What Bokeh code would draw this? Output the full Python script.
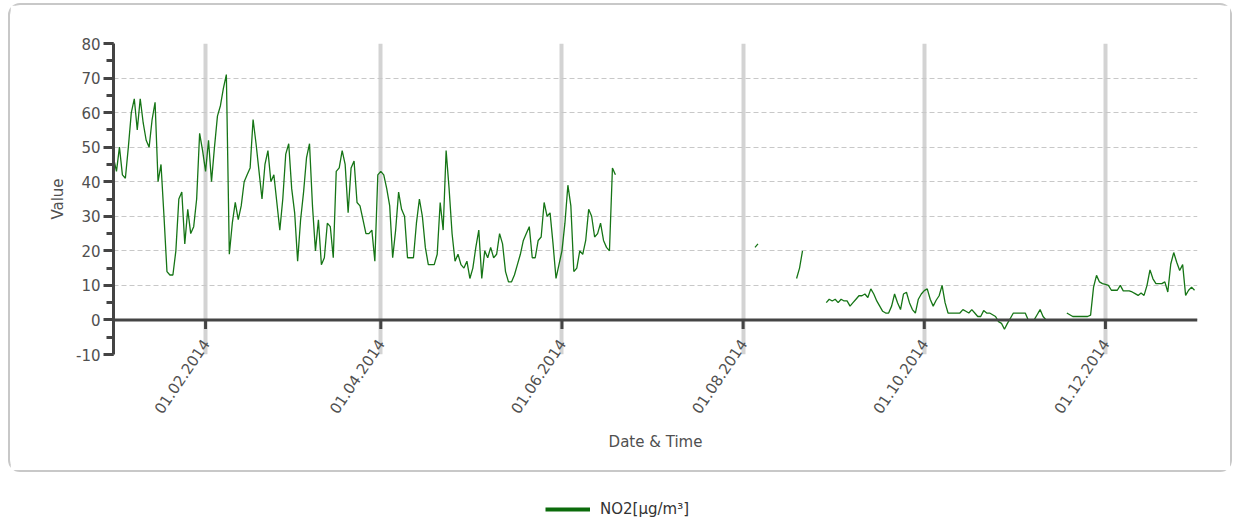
import math
import numpy as np
import pandas as pd
from bokeh.plotting import figure
from bokeh.models import (Range1d, FixedTicker, DatetimeTickFormatter, SingleIntervalTicker,
                          NumeralTickFormatter, Span, Legend, LegendItem, ColumnDataSource)
from bokeh.layouts import column
from bokeh.embed import file_html
from bokeh.resources import INLINE

# ---------------- data (daily NO2 values) ----------------
seg1_start = "2014-01-01"
seg1_values = [
    47, 43, 50, 42, 41, 50, 60, 64, 55, 64,
    57, 52, 50, 58, 63, 40, 45, 30, 14, 13,
    13, 20, 35, 37, 22, 32, 25, 27, 35, 54,
    49, 43, 52, 40, 50, 59, 62, 67, 71, 19,
    28, 34, 29, 33, 40, 42, 44, 58, 51, 43,
    35, 45, 49, 40, 42, 34, 26, 35, 48, 51,
    38, 31, 17, 29, 37, 47, 51, 33, 20, 29,
    16, 18, 28, 27, 18, 43, 44, 49, 45, 31,
    44, 46, 34, 33, 29, 25, 25, 26, 17, 42,
    43, 42, 38, 33, 18, 26, 37, 32, 30, 18,
    18, 18, 28, 35, 30, 21, 16, 16, 16, 19,
    34, 26, 49, 38, 25, 17, 19, 16, 15, 17,
    12, 15, 21, 26, 12, 20, 18, 21, 18, 19,
    25, 22, 14, 11, 11, 13, 16, 19, 23, 25,
    27, 18, 18, 23, 24, 34, 30, 31, 22, 12,
    16, 20, 28, 39, 33, 14, 15, 20, 19, 23,
    32, 30, 24, 25, 28, 23, 21, 20, 44, 42,
]
seg2_start = "2014-08-05"
seg2_values = [21, 22]
seg3_start = "2014-08-19"
seg3_values = [12, 15, 20]
seg4_start = "2014-08-29"
seg4_values = [
    5, 6, 5.5, 6, 5, 6, 5.5, 5.5, 4, 5,
    6, 7, 7, 7.5, 6.5, 9, 7.5, 5.5, 4, 2.5,
    2, 2, 4, 7.5, 5, 3, 7.5, 8, 5, 3,
    2, 6, 7.5, 8.5, 9, 6, 4, 5.7, 7, 10,
    5, 2, 2, 2, 2, 2, 3, 2.5, 2, 3,
    2, 1, 1, 2.7, 2, 2, 1.5, 1, -0.5, -1,
    -2.7, -1, 0.5, 2, 2, 2, 2, 2, 0, 0,
    0, 1.5, 3, 1, 0,
]
seg5_start = "2014-11-18"
seg5_values = [
    2, 1.5, 1, 1, 1, 1, 1, 1, 1.4,
    9.5, 12.9, 11, 10.5, 10.3, 10, 8.6, 8.6, 8.6, 10,
    8.4, 8.4, 8.4, 8.1, 7.6, 7.1, 7.8, 7.1, 10, 14.5,
    11.9, 10.5, 10.5, 10.5, 11, 8.1, 16.2, 19.5, 16.7, 14.3,
    16, 7.1, 8.6, 9.5, 8.6,
]

tick_labels = ["01.02.2014", "01.04.2014", "01.06.2014", "01.08.2014", "01.10.2014", "01.12.2014"]
series_name = "NO2[µg/m³]"
x_start, x_end = "2014-01-01", "2015-01-01"
y_start, y_end = -10, 80

# ---------------- build series with gaps ----------------
segments = [(seg1_start, seg1_values), (seg2_start, seg2_values), (seg3_start, seg3_values),
            (seg4_start, seg4_values), (seg5_start, seg5_values)]
xs, ys = [], []
for start, vals in segments:
    d = pd.date_range(start, periods=len(vals), freq="D")
    xs.extend(list(d))
    ys.extend([float(v) for v in vals])
    xs.append(d[-1] + pd.Timedelta(hours=12))
    ys.append(float("nan"))
src = ColumnDataSource(dict(x=pd.to_datetime(xs), y=np.array(ys)))

tick_dates = pd.to_datetime(tick_labels, format="%d.%m.%Y")
epoch = pd.Timestamp("1970-01-01")
tick_ms = [float((t - epoch) / pd.Timedelta(milliseconds=1)) for t in tick_dates]

FONT = "DejaVu Sans"
AX = "#444444"
TXT = "#505050"
LINE = "#167516"

p = figure(width=1224, height=469, x_axis_type="datetime",
           x_range=Range1d(pd.Timestamp(x_start), pd.Timestamp(x_end)),
           y_range=Range1d(y_start, y_end),
           toolbar_location=None, output_backend="svg",
           min_border_left=103, min_border_right=37, min_border_top=38, min_border_bottom=120)
p.outline_line_color = None
p.background_fill_color = "white"
p.border_fill_color = "white"
p.styles = {"border": "2px solid #c8c8c8", "border-radius": "12px"}

# y axis
yt = SingleIntervalTicker(interval=10, num_minor_ticks=2)
p.yaxis.ticker = yt
p.yaxis.formatter = NumeralTickFormatter(format="0")
p.yaxis.axis_line_color = AX
p.yaxis.axis_line_width = 3
p.yaxis.major_tick_line_color = AX
p.yaxis.major_tick_line_width = 3
p.yaxis.major_tick_out = 10
p.yaxis.major_tick_in = 0
p.yaxis.minor_tick_line_color = AX
p.yaxis.minor_tick_line_width = 3
p.yaxis.minor_tick_out = 7
p.yaxis.minor_tick_in = 0
p.yaxis.major_label_text_font = FONT
p.yaxis.major_label_text_font_size = "15px"
p.yaxis.major_label_text_color = TXT
p.yaxis.major_label_standoff = 3
p.yaxis.axis_label = "Value"
p.yaxis.axis_label_text_font = FONT
p.yaxis.axis_label_text_font_size = "15px"
p.yaxis.axis_label_text_font_style = "normal"
p.yaxis.axis_label_text_color = TXT
p.yaxis.axis_label_standoff = 6

# x axis (labels only; the visible axis line sits at y = 0)
xt = FixedTicker(ticks=tick_ms)
p.xaxis.ticker = xt
fmt = "%d.%m.%Y"
p.xaxis.formatter = DatetimeTickFormatter(milliseconds=fmt, seconds=fmt, minsec=fmt, minutes=fmt,
                                          hourmin=fmt, hours=fmt, days=fmt, months=fmt, years=fmt)
p.xaxis.axis_line_color = None
p.xaxis.major_tick_line_color = None
p.xaxis.minor_tick_line_color = None
p.xaxis.major_tick_out = 0
p.xaxis.major_tick_in = 0
p.xaxis.major_label_orientation = math.radians(56)
p.xaxis.major_label_standoff = -14
p.xaxis.major_label_text_font = FONT
p.xaxis.major_label_text_font_size = "15px"
p.xaxis.major_label_text_color = TXT
p.xaxis.axis_label = "Date & Time"
p.xaxis.axis_label_text_font = FONT
p.xaxis.axis_label_text_font_size = "15px"
p.xaxis.axis_label_text_font_style = "normal"
p.xaxis.axis_label_text_color = TXT
p.xaxis.axis_label_standoff = 12

# grids
p.xgrid.ticker = xt
p.xgrid.grid_line_color = "#d3d3d3"
p.xgrid.grid_line_width = 4
p.ygrid.ticker = yt
p.ygrid.grid_line_color = "#c8c8c8"
p.ygrid.grid_line_width = 1
p.ygrid.grid_line_dash = "5 3"

# data
p.line("x", "y", source=src, line_color=LINE, line_width=1.3)

# x axis line at zero with its ticks
tick_len = 2.6
p.segment(x0=list(tick_dates), y0=[0] * len(tick_dates), x1=list(tick_dates),
          y1=[-tick_len] * len(tick_dates), line_color=AX, line_width=3)
p.add_layout(Span(location=0, dimension="width", line_color=AX, line_width=3))

# legend below the box (the series drawn here falls outside this figure's ranges)
pl = figure(width=1224, height=46, toolbar_location=None, output_backend="svg",
            x_range=Range1d(0, 1), y_range=Range1d(0, 1), min_border=0,
            x_axis_location=None, y_axis_location=None)
pl.grid.visible = False
pl.outline_line_color = None
r = pl.line("x", "y", source=src, line_color="#0b6b0b", line_width=4)
leg = Legend(items=[LegendItem(label=series_name, renderers=[r])], location=(434, 0),
             orientation="horizontal", padding=0, margin=0, spacing=0,
             glyph_width=45, glyph_height=16, label_height=16, label_standoff=10,
             label_text_font=FONT, label_text_font_size="15px", label_text_color="#333333",
             border_line_color=None, background_fill_alpha=0)
pl.add_layout(leg)

layout = column(p, pl, spacing=0, margin=(3, 0, 0, 8))
open("out.html", "w").write(file_html(layout, INLINE))
